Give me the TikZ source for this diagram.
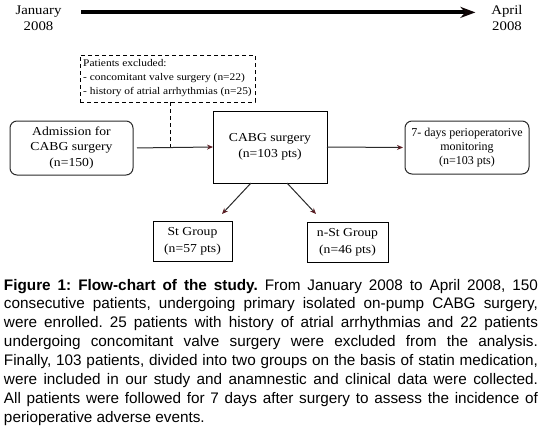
\documentclass[tikz,border=0pt]{standalone}
\usepackage{fontspec}
\setmainfont{Liberation Serif}
\newfontfamily\boxfont[FakeStretch=1.12]{Liberation Serif}
\newfontfamily\capfont{Liberation Sans}
\usetikzlibrary{arrows.meta}
\definecolor{tipred}{HTML}{5A1E24}
\definecolor{linegray}{HTML}{2A2A2A}
\tikzset{
  every node/.style={inner sep=0pt, outer sep=0pt},
  tltext/.style={font=\boxfont\fontsize{13.2}{16}\selectfont, text height=9pt, text depth=3pt},
  sqbox/.style={draw=black, line width=1pt, align=center, font=\boxfont\fontsize{12.2}{16}\selectfont},
  rbox/.style={draw=linegray, line width=1pt, rounded corners=7pt, align=center, font=\boxfont\fontsize{12.2}{16}\selectfont},
  exbox/.style={draw=black, line width=0.8pt, dash pattern=on 4pt off 3pt, align=left, font=\boxfont\fontsize{10.2}{14}\selectfont},
  arr/.style={draw=linegray, line width=1pt, -{Stealth[length=6pt,width=5pt,color=tipred]}},
  dashline/.style={draw=black, line width=0.8pt, dash pattern=on 4pt off 3pt},
  tlarrow/.style={draw=black, line width=4pt, -{Stealth[length=15pt,width=11pt,color=black!85!tipred]}}
}
\begin{document}
\begin{tikzpicture}[x=1pt,y=-1pt]
\useasboundingbox (0,0) rectangle (542,426);
% timeline
\node[tltext] (jan1) at (38.5,11.4) {January};
\node[tltext] (jan2) at (38.5,27.4) {2008};
\node[tltext] (apr1) at (507,11.4) {April};
\node[tltext] (apr2) at (507,27.4) {2008};
\draw[tlarrow] ([xshift=20pt,yshift=-1pt]jan1.east) -- ([xshift=-16pt,yshift=-1pt]apr1.west);
% boxes
\node[exbox, minimum width=175pt, minimum height=47pt] (ex) at (167.5,78.5)
  {Patients excluded:\\- concomitant valve surgery (n=22)\\- history of atrial arrhythmias (n=25)};
\node[rbox, minimum width=123pt, minimum height=54pt] (adm) at (71.5,148)
  {Admission for\\CABG surgery\\(n=150)};
\node[sqbox, minimum width=114pt, minimum height=72pt] (cabg) at (270,147)
  {CABG surgery\\(n=103 pts)};
\node[rbox, minimum width=124pt, minimum height=53pt, font=\fontsize{12}{14}\selectfont] (mon) at (467,147.5)
  {7- days perioperatorive\\monitoring\\(n=103 pts)};
\node[sqbox, minimum width=79pt, minimum height=40pt, font=\boxfont\fontsize{12.2}{17}\selectfont] (st) at (192.5,241)
  {St Group\\(n=57 pts)};
\node[sqbox, minimum width=81pt, minimum height=40pt, font=\boxfont\fontsize{12.2}{17}\selectfont] (nst) at (347.5,242)
  {n-St Group\\(n=46 pts)};
% connectors
\coordinate (j) at (170.7,147);
\draw[arr, shorten <=4pt] (adm.east) -- (cabg.west);
\draw[dashline] (j |- ex.south) -- (j);
\draw[arr, shorten >=2pt] (cabg.east) -- (mon.west);
\draw[arr] ([xshift=-19pt]cabg.south) -- ([xshift=29.5pt,yshift=7pt]st.north);
\draw[arr] ([xshift=17pt]cabg.south) -- ([xshift=-31.5pt,yshift=8pt]nst.north);
% caption
\node[anchor=north west, text width=534pt, align=justify, font=\capfont\fontsize{15.3}{18.9}\selectfont] (cap) at (4,279)
{\frenchspacing\emergencystretch=0pt\hyphenpenalty=10000
\textbf{Figure 1: Flow-chart of the study.} From January 2008 to April 2008, 150\linebreak
consecutive patients, undergoing primary isolated on-pump CABG surgery,\linebreak
were enrolled. 25 patients with history of atrial arrhythmias and 22 patients\linebreak
undergoing concomitant valve surgery were excluded from the analysis.\linebreak
Finally, 103 patients, divided into two groups on the basis of statin medication,\linebreak
were included in our study and anamnestic and clinical data were collected.\linebreak
All patients were followed for 7 days after surgery to assess the incidence of\linebreak
perioperative adverse events.};
\end{tikzpicture}
\end{document}
